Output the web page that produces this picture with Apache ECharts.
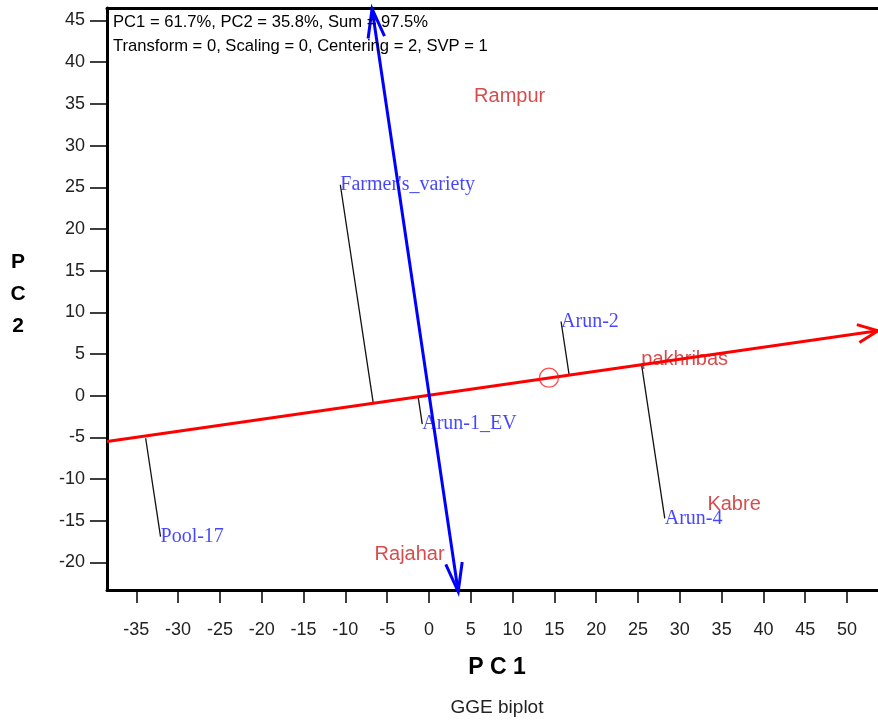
<!DOCTYPE html>
<html>
<head>
<meta charset="utf-8">
<script src="https://cdn.jsdelivr.net/npm/echarts@6/dist/echarts.min.js"></script>
<style>
html,body{margin:0;padding:0;background:#fff;}
#chart{width:878px;height:722px;}
</style>
</head>
<body>
<div id="chart"></div>
<script>
// ---- data ----
const xTicks = [-35,-30,-25,-20,-15,-10,-5,0,5,10,15,20,25,30,35,40,45,50];
const yTicks = [-20,-15,-10,-5,0,5,10,15,20,25,30,35,40,45];

const envNames = ['Rampur','pakhribas','Kabre','Rajahar'];
const envPC1   = [5.4, 25.4, 33.3, -6.5];
const envPC2   = [35.9, 4.4, -13.1, -19.1];

const genNames = ["Farmer's_variety",'Arun-2','Arun-1_EV','Arun-4','Pool-17'];
const genPC1   = [-10.6, 15.8, -0.8, 28.2, -32.1];
const genPC2   = [25.3, 8.9, -3.4, -14.7, -16.9];

const meanEnv = [14.35, 2.16];                  // average environment (small circle)
const aecAbscissa = [-38.5, -5.5, 53.7, 7.8];   // red AEC line (start x,y -> end x,y)
const aecOrdinate = [3.5, -23.5, -6.8, 46.4];   // blue AEC ordinate

const infoLines = ['PC1 = 61.7%, PC2 = 35.8%, Sum = 97.5%',
                   'Transform = 0, Scaling = 0, Centering = 2, SVP = 1'];

// projection of a point onto the AEC abscissa (through origin, direction of meanEnv)
function foot(x, y) {
  const dx = meanEnv[0], dy = meanEnv[1];
  const t = (x*dx + y*dy) / (dx*dx + dy*dy);
  return [t*dx, t*dy];
}

const chart = echarts.init(document.getElementById('chart'));

function arrowHead(tip, from, len, ang) {
  const th = Math.atan2(tip[1]-from[1], tip[0]-from[0]);
  return [
    [tip[0]-len*Math.cos(th-ang), tip[1]-len*Math.sin(th-ang)],
    tip,
    [tip[0]-len*Math.cos(th+ang), tip[1]-len*Math.sin(th+ang)]
  ];
}

const sans = 'Liberation Sans, Arial, sans-serif';
const serif = 'Liberation Serif, Times New Roman, serif';

const option = {
  backgroundColor: '#fff',
  animation: false,
  grid: { left: 107, right: 0, top: 8, bottom: 132, containLabel: false },
  xAxis: [{
    type: 'value', min: -38.5, max: 53.7, position: 'bottom',
    axisLine: { show: true, onZero: false, lineStyle: { color: '#000', width: 3 } },
    axisTick: { show: true, customValues: xTicks, length: 13, lineStyle: { color: '#000', width: 1.5 } },
    axisLabel: { customValues: xTicks, fontSize: 18, color: '#222', fontFamily: sans, margin: 31 },
    splitLine: { show: false }
  }, {
    type: 'value', min: -38.5, max: 53.7, position: 'top',
    axisLine: { show: true, onZero: false, lineStyle: { color: '#000', width: 3 } },
    axisTick: { show: false }, axisLabel: { show: false }, splitLine: { show: false }
  }],
  yAxis: [{
    type: 'value', min: -23.3, max: 46.5, position: 'left',
    axisLine: { show: true, onZero: false, lineStyle: { color: '#000', width: 3 } },
    axisTick: { show: true, customValues: yTicks, length: 17, lineStyle: { color: '#000', width: 1.5 } },
    axisLabel: { customValues: yTicks, fontSize: 18, color: '#222', fontFamily: sans, margin: 22 },
    splitLine: { show: false }
  }],
  graphic: [
    { type: 'text', left: 113, top: 10, z: 10,
      style: { text: infoLines.join('\n'), font: '16.6px ' + sans, fill: '#000', lineHeight: 24 } },
    { type: 'text', x: 497, y: 668, z: 10,
      style: { text: 'P C 1', font: 'bold 23px ' + sans, fill: '#000', align: 'center', verticalAlign: 'middle' } },
    { type: 'text', x: 18, y: 294, z: 10,
      style: { text: 'P\nC\n2', font: 'bold 21px ' + sans, fill: '#000', align: 'center', verticalAlign: 'middle', lineHeight: 32 } },
    { type: 'text', x: 497, y: 708, z: 10,
      style: { text: 'GGE biplot', font: '19px ' + sans, fill: '#222', align: 'center', verticalAlign: 'middle' } }
  ],
  series: [
    { // projection lines from genotypes to the AEC abscissa
      type: 'custom', z: 2,
      data: genNames.map((n, i) => [genPC1[i], genPC2[i]]),
      encode: { x: 0, y: 1 },
      renderItem: function (params, api) {
        const x = api.value(0), y = api.value(1);
        const f = foot(x, y);
        const p = api.coord([x, y]), q = api.coord(f);
        return { type: 'line', shape: { x1: p[0], y1: p[1], x2: q[0], y2: q[1] },
                 style: { stroke: '#111', lineWidth: 1.3 } };
      }
    },
    { // AEC abscissa (red) and ordinate (blue) with arrow heads
      type: 'custom', z: 4, clip: false,
      data: [aecAbscissa.concat([0]), aecOrdinate.concat([1])],
      encode: { x: [0, 2], y: [1, 3] },
      renderItem: function (params, api) {
        const a = api.coord([api.value(0), api.value(1)]);
        const b = api.coord([api.value(2), api.value(3)]);
        const blue = api.value(4) === 1;
        const col = blue ? '#0000ff' : '#ff0000';
        const children = [{ type: 'line', shape: { x1: a[0], y1: a[1], x2: b[0], y2: b[1] },
                            style: { stroke: col, lineWidth: 3 } }];
        const len = blue ? 30 : 22, ang = blue ? 0.28 : 0.42;
        children.push({ type: 'polyline', shape: { points: arrowHead(b, a, len, ang) },
                        style: { stroke: col, lineWidth: 3, fill: null } });
        if (blue) {
          children.push({ type: 'polyline', shape: { points: arrowHead(a, b, len, ang) },
                          style: { stroke: col, lineWidth: 3, fill: null } });
        }
        return { type: 'group', children: children };
      }
    },
    { // average environment circle
      type: 'scatter', z: 5,
      data: [meanEnv],
      symbol: 'circle', symbolSize: 19,
      itemStyle: { color: 'rgba(0,0,0,0)', borderColor: '#ff2020', borderWidth: 1.3 }
    },
    { // environment labels
      type: 'scatter', z: 1, symbolSize: 0,
      data: envNames.map((n, i) => ({ name: n, value: [envPC1[i], envPC2[i]] })),
      label: { show: true, position: 'right', distance: 0, formatter: '{b}',
               color: '#cc1f1f', fontSize: 20, fontFamily: sans }
    },
    { // genotype labels
      type: 'scatter', z: 1, symbolSize: 0,
      data: genNames.map((n, i) => ({ name: n, value: [genPC1[i], genPC2[i]] })),
      label: { show: true, position: 'right', distance: 0, formatter: '{b}',
               color: '#1717ff', fontSize: 20, fontFamily: serif }
    }
  ]
};
chart.setOption(option);
</script>
</body>
</html>
